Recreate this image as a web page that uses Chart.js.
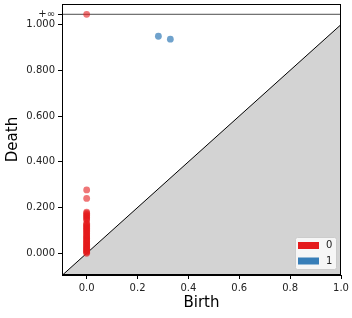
<!DOCTYPE html>
<html>
<head>
<meta charset="utf-8">
<script src="https://cdn.jsdelivr.net/npm/chart.js@4"></script>
<style>
  html, body { margin: 0; padding: 0; background: #fff; }
  canvas { display: block; }
</style>
</head>
<body>
<canvas id="chart" width="352" height="318"></canvas>
<script>
// Persistence diagram data
const h0Births = [0, 0, 0, 0, 0, 0, 0, 0, 0, 0, 0, 0, 0, 0, 0, 0, 0, 0, 0, 0, 0,
  0, 0, 0, 0, 0, 0, 0, 0, 0, 0, 0, 0, 0, 0, 0, 0, 0, 0, 0, 0, 0, 0];
const h0Deaths = [0, 0.004, 0.008, 0.011, 0.015, 0.019, 0.022, 0.026, 0.03, 0.034, 0.038,
  0.042, 0.046, 0.05, 0.054, 0.058, 0.063, 0.067, 0.071, 0.076, 0.08, 0.085, 0.09,
  0.095, 0.1, 0.104, 0.109, 0.113, 0.118, 0.122, 0.127, 0.131, 0.145, 0.15, 0.155,
  0.16, 0.165, 0.17, 0.175, 0.18, 0.24, 0.277, Infinity];
const h1Births = [0.282, 0.329];
const h1Deaths = [0.949, 0.936];
const seriesLabels = ['0', '1'];

// axis ticks
const xTicks = [0, 0.2, 0.4, 0.6, 0.8, 1.0];
const yTicks = [0, 0.2, 0.4, 0.6, 0.8, 1.0];
const infValue = 1.045;   // where +inf points are drawn
const infLabel = '+\u221e';

const xMin = -0.097, xMax = 1.0;
const yMin = -0.095, yMax = 1.09;

const red = '#e41a1c';
const blue = '#377eb8';

const toPoints = (bs, ds) => bs.map((b, i) => ({ x: b, y: isFinite(ds[i]) ? ds[i] : infValue }));

// draws the box round the plot and the legend in the lower right corner
const framePlugin = {
  id: 'frame',
  afterDatasetsDraw(chart) {
    const { ctx, chartArea: a } = chart;
    ctx.save();
    ctx.strokeStyle = '#000';
    ctx.lineWidth = 1;
    ctx.strokeRect(Math.round(a.left) + 0.5, Math.round(a.top) + 0.5,
      Math.round(a.right - a.left) - 1, Math.round(a.bottom - a.top) - 1);

    // legend
    const x = 295.5, y = 237.5, w = 41, h = 32;
    ctx.beginPath();
    ctx.roundRect(x, y, w, h, 2);
    ctx.fillStyle = 'rgba(255,255,255,0.8)';
    ctx.fill();
    ctx.strokeStyle = '#cccccc';
    ctx.stroke();
    const colors = [red, blue];
    ctx.font = '10px "DejaVu Sans"';
    ctx.textBaseline = 'middle';
    seriesLabels.forEach((lab, i) => {
      const py = 242 + i * 15.5;
      ctx.fillStyle = colors[i];
      ctx.fillRect(298, py, 21, 7);
      ctx.fillStyle = '#222';
      ctx.fillText(lab, 326, py + 3.5);
    });
    ctx.restore();
  }
};

new Chart(document.getElementById('chart'), {
  type: 'scatter',
  data: {
    datasets: [
      {
        label: 'diagonal',
        type: 'line',
        data: [{ x: xMin, y: xMin }, { x: xMax, y: xMax }],
        borderColor: '#000',
        borderWidth: 1,
        backgroundColor: '#d3d3d3',
        fill: 'start',
        pointRadius: 0,
        order: 4
      },
      {
        label: 'inf',
        type: 'line',
        data: [{ x: xMin, y: infValue }, { x: xMax, y: infValue }],
        borderColor: 'rgba(0,0,0,0.7)',
        borderWidth: 1,
        fill: false,
        pointRadius: 0,
        order: 3
      },
      {
        label: seriesLabels[1],
        data: toPoints(h1Births, h1Deaths),
        backgroundColor: 'rgba(55,126,184,0.72)',
        borderWidth: 0,
        pointRadius: 3.4,
        order: 1
      },
      {
        label: seriesLabels[0],
        data: toPoints(h0Births, h0Deaths),
        backgroundColor: 'rgba(228,26,28,0.6)',
        borderWidth: 0,
        pointRadius: 3.4,
        order: 2
      }
    ]
  },
  options: {
    responsive: false,
    animation: false,
    layout: { padding: { top: 4, right: 11, left: 0, bottom: 0 } },
    plugins: {
      legend: { display: false },
      tooltip: { enabled: false }
    },
    scales: {
      x: {
        type: 'linear',
        min: xMin,
        max: xMax,
        afterBuildTicks: s => { s.ticks = xTicks.map(v => ({ value: v })); },
        afterFit: s => { s.height = 43; s.paddingLeft = 0; s.paddingRight = 0; },
        grid: { drawOnChartArea: false, tickLength: 4, color: '#000' },
        border: { display: true, color: '#000' },
        ticks: {
          padding: 3,
          color: '#222',
          font: { family: 'DejaVu Sans', size: 10 },
          maxRotation: 0,
          callback: v => v.toFixed(1)
        },
        title: {
          display: true,
          text: 'Birth',
          color: '#000',
          font: { family: 'DejaVu Sans', size: 15 },
          padding: { top: 0, bottom: 6 }
        }
      },
      y: {
        type: 'linear',
        min: yMin,
        max: yMax,
        afterBuildTicks: s => { s.ticks = yTicks.concat([infValue]).map(v => ({ value: v })); },
        afterFit: s => { s.width = 62; s.paddingTop = 0; s.paddingBottom = 0; },
        grid: { drawOnChartArea: false, tickLength: 4, color: '#000' },
        border: { display: true, color: '#000' },
        ticks: {
          padding: 3,
          color: '#222',
          font: { family: 'DejaVu Sans', size: 10 },
          callback: v => (v === infValue ? infLabel : v.toFixed(3))
        },
        title: {
          display: true,
          text: 'Death',
          color: '#000',
          font: { family: 'DejaVu Sans', size: 15 },
          padding: { top: 4, bottom: 0 }
        }
      }
    }
  },
  plugins: [framePlugin]
});
</script>
</body>
</html>
